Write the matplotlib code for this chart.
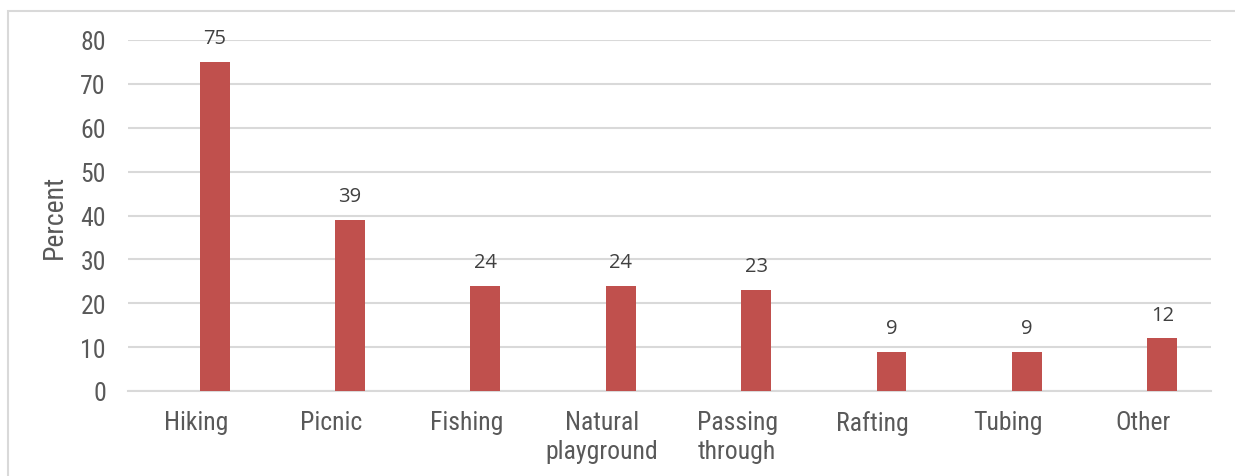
import matplotlib.pyplot as plt
from matplotlib.patches import Rectangle
from matplotlib import font_manager

# dados
categories = ['Hiking', 'Picnic', 'Fishing', 'Natural\nplayground', 'Passing\nthrough',
              'Rafting', 'Tubing', 'Other']
percent = [75, 39, 24, 24, 23, 9, 9, 12]
yticks = [0, 10, 20, 30, 40, 50, 60, 70, 80]

# fonte condensada, se existir
names = {f.name for f in font_manager.fontManager.ttflist}
cond = [n for n in ['Liberation Sans Narrow', 'DejaVu Sans Condensed', 'Roboto Condensed']
        if n in names]
tick_font = cond + ['DejaVu Sans']
label_font = ['Open Sans', 'DejaVu Sans']
grid_color = '#d9d9d9'
text_color = '#595959'

fig = plt.figure(figsize=(12.35, 4.77), dpi=100)
ax = fig.add_axes([128 / 1235, 1 - 392 / 477, (1211 - 128) / 1235, (392 - 41) / 477])

x = list(range(len(categories)))
# barras deslocadas (série vazia ao lado, como no original)
bar_x = [i + 0.14 for i in x]
bars = ax.bar(bar_x, percent, width=0.22, color='#c0504d', zorder=3)

# rótulos de valor
for b, v in zip(bars, percent):
    ax.text(b.get_x() + b.get_width() / 2, v + 5.4, str(v), ha='center', va='center',
            fontsize=14.5, color='#404040', family=label_font)

ax.set_xlim(-0.5, len(categories) - 0.5)
ax.set_ylim(0, 80)
ax.set_yticks(yticks)
ax.set_xticks(x)
ax.set_xticklabels(categories, family=tick_font, stretch='condensed', fontsize=18.5,
                   color=text_color, linespacing=1.25)
ax.set_yticklabels([str(t) for t in yticks], family=tick_font, stretch='condensed',
                   fontsize=18.5, color=text_color)
ax.tick_params(axis='both', length=0)
ax.tick_params(axis='y', pad=16)
ax.tick_params(axis='x', pad=14)

ax.grid(axis='y', color=grid_color, linewidth=1.5, zorder=0)
for s in ['top', 'right', 'left']:
    ax.spines[s].set_visible(False)
ax.spines['bottom'].set_color(grid_color)
ax.spines['bottom'].set_linewidth(1.5)

ax.set_ylabel('Percent', family=tick_font, stretch='condensed', fontsize=20,
              color=text_color, labelpad=9)

# moldura do gráfico
fig.patches.append(Rectangle((8 / 1235, -0.1), 1.2, 1 - 12 / 477 + 0.1, transform=fig.transFigure,
                             fill=False, edgecolor=grid_color, linewidth=1.5))

fig.savefig('out.png', dpi=100)
